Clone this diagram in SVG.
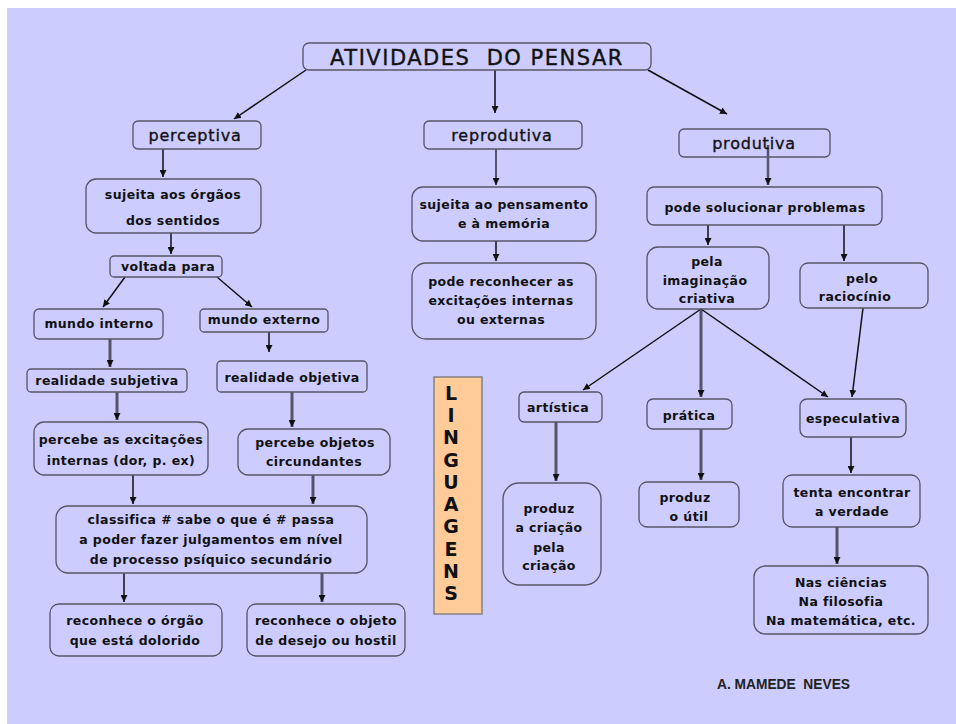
<svg xmlns="http://www.w3.org/2000/svg" width="956" height="724" viewBox="0 0 956 724">
<style>
.box{fill:none;stroke:#555566;stroke-width:1.3}
.t{font-family:"DejaVu Sans",sans-serif;font-weight:bold;font-size:12.5px;letter-spacing:0.4px;fill:#111;text-anchor:middle}
.h{font-family:"DejaVu Sans",sans-serif;font-size:16px;letter-spacing:0.8px;fill:#111;stroke:#111;stroke-width:0.35;text-anchor:middle}
.title{font-family:"DejaVu Sans",sans-serif;font-size:21px;letter-spacing:1.5px;fill:#111;stroke:#111;stroke-width:0.4;text-anchor:middle}
.lg{font-family:"DejaVu Sans",sans-serif;font-weight:bold;font-size:19px;fill:#111;text-anchor:middle}
.c{stroke:#111;stroke-width:1.5;fill:none;marker-end:url(#ah)}
.k{stroke:#55556a;stroke-width:3;fill:none;marker-end:url(#ah)}
</style>
<defs>
<marker id="ah" viewBox="0 0 10 10" refX="10" refY="5" markerWidth="7" markerHeight="7" markerUnits="userSpaceOnUse" orient="auto">
<path d="M0,0 L10,5 L0,10 z" fill="#111"/>
</marker>
</defs>
<rect x="0" y="0" width="956" height="724" fill="#ffffff"/>
<rect x="7" y="8" width="949" height="716" fill="#ccccff"/>

<g id="connectors">
<line class="c" x1="306" y1="70" x2="234" y2="119"/>
<line class="c" x1="495" y1="70" x2="495" y2="113"/>
<line class="c" x1="648" y1="70" x2="727" y2="114"/>
<line class="c" x1="163" y1="149" x2="163" y2="177"/>
<line class="c" x1="171" y1="233" x2="171" y2="254"/>
<line class="c" x1="125" y1="277" x2="103" y2="307"/>
<line class="c" x1="217" y1="277" x2="252" y2="307"/>
<line class="k" x1="110" y1="339" x2="110" y2="367"/>
<line class="c" x1="269" y1="332" x2="269" y2="352"/>
<line class="k" x1="117" y1="392" x2="117" y2="420"/>
<line class="k" x1="292" y1="392" x2="292" y2="427"/>
<line class="c" x1="133" y1="475" x2="133" y2="504"/>
<line class="k" x1="313" y1="475" x2="313" y2="504"/>
<line class="c" x1="124" y1="573" x2="124" y2="602"/>
<line class="k" x1="322" y1="573" x2="322" y2="602"/>
<line class="k" x1="496" y1="149" x2="496" y2="185" style="stroke-width:2"/>
<line class="c" x1="496" y1="241" x2="496" y2="261"/>
<line class="k" x1="768" y1="145" x2="768" y2="185" style="stroke-width:2.5"/>
<line class="c" x1="708" y1="225" x2="708" y2="245"/>
<line class="c" x1="844" y1="225" x2="844" y2="261"/>
<line class="c" x1="701" y1="309" x2="583" y2="390"/>
<line class="k" x1="701" y1="309" x2="701" y2="397"/>
<line class="c" x1="701" y1="309" x2="828" y2="397"/>
<line class="c" x1="863" y1="308" x2="852" y2="397"/>
<line class="k" x1="556" y1="422" x2="556" y2="481"/>
<line class="k" x1="701" y1="429" x2="701" y2="480"/>
<line class="c" x1="851" y1="437" x2="851" y2="473"/>
<line class="k" x1="837" y1="527" x2="837" y2="564"/>
</g>

<g id="n-title"><rect class="box" x="303" y="43" width="348" height="27" rx="6"/><text class="title" x="477" y="65" xml:space="preserve">ATIVIDADES  DO PENSAR</text></g>
<g id="n-perceptiva"><rect class="box" x="133" y="121" width="128" height="28" rx="5"/><text class="h" x="195" y="141">perceptiva</text></g>
<g id="n-reprodutiva"><rect class="box" x="424" y="121" width="158" height="28" rx="5"/><text class="h" x="502" y="141">reprodutiva</text></g>
<g id="n-produtiva"><rect class="box" x="679" y="129" width="151" height="28" rx="5"/><text class="h" x="754" y="149">produtiva</text></g>

<g id="n-sujeita-orgaos"><rect class="box" x="86" y="179" width="175" height="54" rx="10"/><text class="t" x="173" y="199">sujeita aos órgãos</text><text class="t" x="173" y="225">dos sentidos</text></g>
<g id="n-voltada"><rect class="box" x="110" y="256" width="112" height="21" rx="4"/><text class="t" x="168" y="271">voltada para</text></g>
<g id="n-mundo-interno"><rect class="box" x="34" y="309" width="129" height="30" rx="5"/><text class="t" x="99" y="328">mundo interno</text></g>
<g id="n-mundo-externo"><rect class="box" x="200" y="309" width="128" height="23" rx="4"/><text class="t" x="264" y="324">mundo externo</text></g>
<g id="n-real-subj"><rect class="box" x="27" y="369" width="160" height="23" rx="4"/><text class="t" x="107" y="385">realidade subjetiva</text></g>
<g id="n-real-obj"><rect class="box" x="217" y="361" width="150" height="31" rx="4"/><text class="t" x="292" y="382">realidade objetiva</text></g>
<g id="n-percebe-exc"><rect class="box" x="34" y="422" width="174" height="53" rx="10"/><text class="t" x="121" y="444">percebe as excitações</text><text class="t" x="121" y="465">internas (dor, p. ex)</text></g>
<g id="n-percebe-obj"><rect class="box" x="238" y="429" width="152" height="46" rx="10"/><text class="t" x="315" y="447">percebe objetos</text><text class="t" x="314" y="466">circundantes</text></g>
<g id="n-classifica"><rect class="box" x="56" y="506" width="311" height="67" rx="12"/><text class="t" x="211" y="524">classifica # sabe o que é # passa</text><text class="t" x="211" y="544">a poder fazer julgamentos em nível</text><text class="t" x="211" y="564">de processo psíquico secundário</text></g>
<g id="n-reconhece-orgao"><rect class="box" x="50" y="604" width="172" height="52" rx="9"/><text class="t" x="135" y="625">reconhece o órgão</text><text class="t" x="135" y="645">que está dolorido</text></g>
<g id="n-reconhece-objeto"><rect class="box" x="247" y="604" width="158" height="52" rx="9"/><text class="t" x="326" y="625">reconhece o objeto</text><text class="t" x="326" y="645">de desejo ou hostil</text></g>

<g id="n-sujeita-pens"><rect class="box" x="412" y="187" width="184" height="54" rx="11"/><text class="t" x="504" y="209">sujeita ao pensamento</text><text class="t" x="504" y="228">e à memória</text></g>
<g id="n-pode-reconhecer"><rect class="box" x="412" y="263" width="184" height="76" rx="14"/><text class="t" x="501" y="286">pode reconhecer as</text><text class="t" x="501" y="305">excitações internas</text><text class="t" x="501" y="324">ou externas</text></g>

<g id="n-linguagens"><rect x="434" y="377" width="48" height="237" fill="#ffcc99" stroke="#777777" stroke-width="1.3"/>
<text class="lg" x="451" y="400">L</text><text class="lg" x="451" y="422">I</text><text class="lg" x="451" y="444">N</text><text class="lg" x="451" y="467">G</text><text class="lg" x="451" y="489">U</text><text class="lg" x="451" y="511">A</text><text class="lg" x="451" y="533">G</text><text class="lg" x="451" y="556">E</text><text class="lg" x="451" y="578">N</text><text class="lg" x="451" y="600">S</text></g>

<g id="n-pode-solucionar"><rect class="box" x="647" y="187" width="235" height="38" rx="7"/><text class="t" x="765" y="212">pode solucionar problemas</text></g>
<g id="n-pela-imag"><rect class="box" x="647" y="247" width="122" height="62" rx="11"/><text class="t" x="707" y="266">pela</text><text class="t" x="705" y="285">imaginação</text><text class="t" x="707" y="303">criativa</text></g>
<g id="n-pelo-rac"><rect class="box" x="800" y="263" width="128" height="45" rx="8"/><text class="t" x="862" y="283">pelo</text><text class="t" x="855" y="301">raciocínio</text></g>
<g id="n-artistica"><rect class="box" x="519" y="392" width="83" height="30" rx="5"/><text class="t" x="558" y="412">artística</text></g>
<g id="n-pratica"><rect class="box" x="647" y="399" width="85" height="30" rx="6"/><text class="t" x="689" y="420">prática</text></g>
<g id="n-especulativa"><rect class="box" x="800" y="399" width="106" height="38" rx="7"/><text class="t" x="853" y="423">especulativa</text></g>
<g id="n-produz-criacao"><rect class="box" x="503" y="483" width="98" height="102" rx="16"/><text class="t" x="549" y="513">produz</text><text class="t" x="549" y="532">a criação</text><text class="t" x="549" y="552">pela</text><text class="t" x="549" y="570">criação</text></g>
<g id="n-produz-util"><rect class="box" x="639" y="482" width="100" height="45" rx="8"/><text class="t" x="685" y="502">produz</text><text class="t" x="689" y="521">o útil</text></g>
<g id="n-tenta"><rect class="box" x="783" y="475" width="137" height="52" rx="9"/><text class="t" x="852" y="497">tenta encontrar</text><text class="t" x="852" y="516">a verdade</text></g>
<g id="n-nas"><rect class="box" x="754" y="566" width="174" height="68" rx="11"/><text class="t" x="841" y="587">Nas ciências</text><text class="t" x="841" y="606">Na filosofia</text><text class="t" x="841" y="625">Na matemática, etc.</text></g>

<text x="717" y="689" font-family="Liberation Sans, sans-serif" font-size="14" font-weight="bold" fill="#222" textLength="133" lengthAdjust="spacingAndGlyphs" xml:space="preserve">A. MAMEDE  NEVES</text>
</svg>
